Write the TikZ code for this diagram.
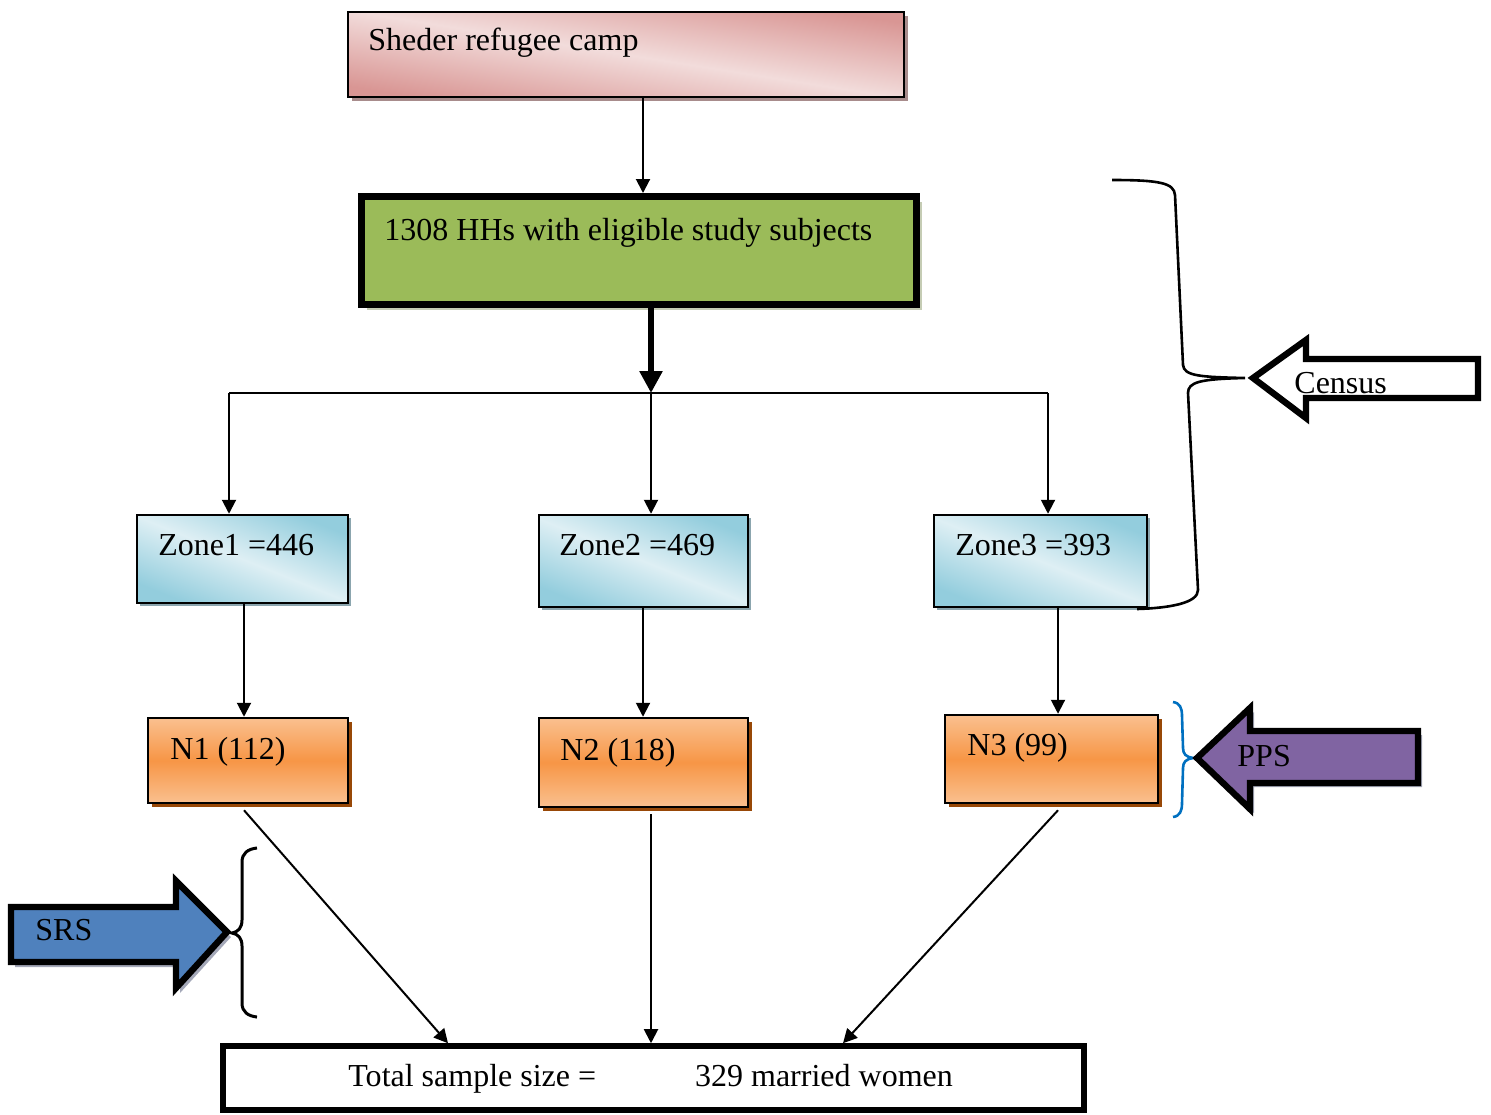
\documentclass[tikz,border=0pt]{standalone}
\usepackage{fontspec}
\setmainfont{Liberation Serif}
\usetikzlibrary{arrows.meta,fit,shadows}
\definecolor{pinkD}{HTML}{D99694}
\definecolor{pinkL}{HTML}{F2DCDB}
\definecolor{pinkS}{HTML}{A88C8C}
\definecolor{greenF}{HTML}{9BBB59}
\definecolor{greenS}{HTML}{C5CCB4}
\definecolor{blueD}{HTML}{93CDDD}
\definecolor{blueL}{HTML}{DEEFF4}
\definecolor{blueS}{HTML}{8BA5AE}
\definecolor{orL}{HTML}{FAC08F}
\definecolor{orD}{HTML}{F79646}
\definecolor{orS}{HTML}{984807}
\definecolor{purpleF}{HTML}{8064A2}
\definecolor{srsF}{HTML}{4F81BD}
\definecolor{arrS}{HTML}{A4A8B8}
\definecolor{braceBlue}{HTML}{0070C0}
\tikzset{
  txt/.style={font=\fontsize{16}{19}\selectfont, inner sep=0pt, anchor=base west},
  box/.style={draw=black, line width=1.25pt, inner sep=0pt},
  pinkbox/.style={box, top color=pinkD, bottom color=pinkD, middle color=pinkL, shading angle=-9,
    drop shadow={shadow xshift=2pt, shadow yshift=-2pt, fill=pinkS, opacity=1}},
  greenbox/.style={draw=black, line width=3.5pt, inner sep=0pt, fill=greenF,
    drop shadow={shadow xshift=2.5pt, shadow yshift=-2.5pt, fill=greenS, opacity=1}},
  zonebox/.style={box, top color=blueD, bottom color=blueD, middle color=blueL, shading angle=-22,
    drop shadow={shadow xshift=1.5pt, shadow yshift=-1.5pt, fill=blueS, opacity=1}},
  nbox/.style={box, top color=orL, bottom color=orL, middle color=orD,
    drop shadow={shadow xshift=2pt, shadow yshift=-2pt, fill=orS, opacity=1}},
  totalbox/.style={draw=black, line width=2.8pt, inner sep=0pt, fill=white},
  conn/.style={line width=1pt, draw=black},
  arr/.style={conn, -{Triangle[width=7pt,length=7pt]}},
  thickarr/.style={line width=3pt, draw=black, -{Triangle[width=11pt,length=11pt]}},
  blockarrow/.style={draw=black, line width=3.2pt, line join=miter, miter limit=10},
  bracestyle/.style={line width=1.3pt, draw=black}
}
\begin{document}
\begin{tikzpicture}[x=0.5pt,y=-0.5pt]
\useasboundingbox (0,0) rectangle (1491,1114);

% boxes
\node[pinkbox, fit={(348,12) (904,97)}] (camp) {};
\node[txt] (campT) at (368,50) {Sheder refugee camp};

\node[greenbox, fit={(361.5,196.5) (916.5,304.5)}] (hh) {};
\node[txt] (hhT) at (384,240) {1308 HHs with eligible study subjects};

\node[zonebox, fit={(137,515) (348,603)}] (z1) {};
\node[txt] (z1T) at (158,555) {Zone1 =446};
\node[zonebox, fit={(539,515) (748,607)}] (z2) {};
\node[txt] (z2T) at (559,555) {Zone2 =469};
\node[zonebox, fit={(934,515) (1147,607)}] (z3) {};
\node[txt] (z3T) at (955,555) {Zone3 =393};

\node[nbox, fit={(148,718) (348,803)}] (n1) {};
\node[txt] (n1T) at (170,759) {N1 (112)};
\node[nbox, fit={(539,718) (748,807)}] (n2) {};
\node[txt] (n2T) at (560,760) {N2 (118)};
\node[nbox, fit={(945,715) (1158,803)}] (n3) {};
\node[txt] (n3T) at (967,755) {N3 (99)};

\node[totalbox, fit={(223,1046) (1084,1110)}] (total) {};
\node[txt] (totalT) at (348,1086) {Total sample size =\hspace{49.5pt}329 married women};

% helper coordinates
\coordinate (x643) at (643,0);
\coordinate (x651) at (651,0);
\coordinate (x244) at (244,0);
\coordinate (x1058) at (1058,0);
\coordinate (x448) at (448,0);
\coordinate (x843) at (843,0);
\coordinate (split) at (651,393);
\coordinate (L) at (229,393);
\coordinate (R) at (1048,393);

% connectors
\draw[arr] (camp.south -| x643) -- (hh.north -| x643);
\draw[thickarr] (hh.south -| x651) -- (split);
\draw[line width=1.3pt] (L) -- (R);
\draw[arr] (L) -- (z1.north -| L);
\draw[arr] (split) -- (z2.north -| split);
\draw[arr] (R) -- (z3.north -| R);
\draw[arr] (z1.south -| x244) -- (n1.north -| x244);
\draw[arr] (z2.south -| x643) -- (n2.north -| x643);
\draw[arr] (z3.south -| x1058) -- (n3.north -| x1058);
\draw[arr] ([yshift=-3pt]n1.south -| x244) -- (total.north -| x448);
\draw[arr] ([yshift=-3pt]n2.south -| x651) -- (total.north -| x651);
\draw[arr] ([yshift=-3pt]n3.south -| x1058) -- (total.north -| x843);

% Census brace and arrow
\draw[bracestyle] (1112,180) .. controls (1160,180) and (1174,183) .. (1175,195)
  -- (1183,365) .. controls (1184,376) and (1200,377) .. (1245,378)
  .. controls (1200,379) and (1188,382) .. (1188,393)
  -- (1198,590) .. controls (1198,603) and (1170,608) .. (1137,609);
\draw[blockarrow, fill=white] (1253,378) -- (1306,340) -- (1306,359) -- (1478,359)
  -- (1478,398) -- (1306,398) -- (1306,418) -- cycle;
\node[txt] (censusT) at (1294,393) {Census};

% PPS brace and arrow
\draw[bracestyle, draw=braceBlue] (1173,702) .. controls (1180,703) and (1182,708) .. (1182,716)
  -- (1183,748) .. controls (1183,754) and (1186,757) .. (1193,758)
  .. controls (1186,759) and (1183,762) .. (1183,768)
  -- (1182,803) .. controls (1182,811) and (1180,816) .. (1173,817);
\fill[arrS] (1201,762) -- (1254,712) -- (1254,735) -- (1422,735)
  -- (1422,787) -- (1254,787) -- (1254,813) -- cycle;
\draw[blockarrow, fill=purpleF] (1197,758) -- (1250,708) -- (1250,731) -- (1418,731)
  -- (1418,783) -- (1250,783) -- (1250,809) -- cycle;
\node[txt] (ppsT) at (1237,766) {PPS};

% SRS brace and arrow
\draw[bracestyle, line width=1.5pt] (257,848) .. controls (248,849) and (242,853) .. (242,862)
  -- (242,920) .. controls (242,928) and (238,932) .. (232,933)
  .. controls (238,934) and (242,938) .. (242,946)
  -- (242,1003) .. controls (242,1012) and (248,1016) .. (257,1017);
\fill[arrS] (15,912) -- (180,912) -- (180,886) -- (231,937) -- (180,993)
  -- (180,967) -- (15,967) -- cycle;
\draw[blockarrow, fill=srsF] (11,907) -- (176,907) -- (176,881) -- (227,932)
  -- (176,988) -- (176,962) -- (11,962) -- cycle;
\node[txt] (srsT) at (35,940) {SRS};
\end{tikzpicture}
\end{document}
